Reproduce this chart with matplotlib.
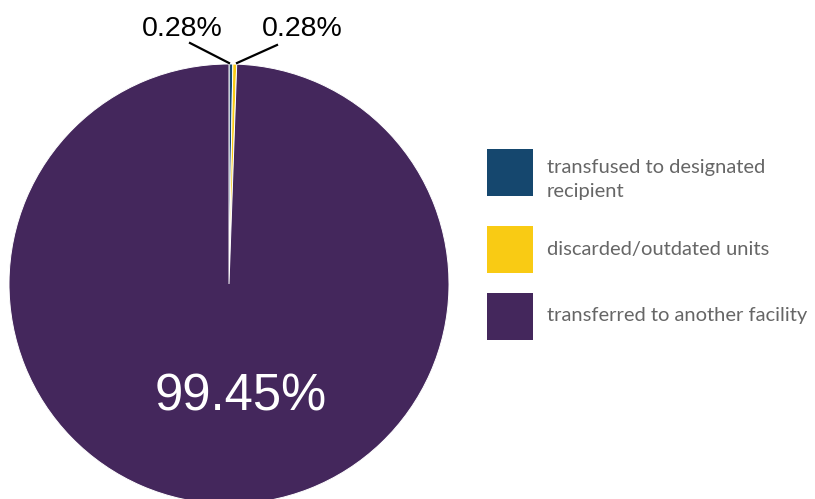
import matplotlib.pyplot as plt
from matplotlib.patches import Rectangle

categories = ['transfused to designated\nrecipient', 'discarded/outdated units',
              'transferred to another facility']
values = [0.28, 0.28, 99.45]
labels = ['0.28%', '0.28%', '99.45%']
colors = ['#15476E', '#F9CB14', '#44275C']

W, H = 815, 499
fig = plt.figure(figsize=(W / 100, H / 100), dpi=100)

# pie axes: centre (229, 284) px, radius 220 px
cx, cy, r = 229, 284, 220
ax = fig.add_axes([(cx - r) / W, (H - cy - r) / H, 2 * r / W, 2 * r / H])
wedges, _ = ax.pie(values, colors=colors, startangle=90, counterclock=False,
                   wedgeprops=dict(edgecolor='white', linewidth=0.7))
ax.set_xlim(-1, 1)
ax.set_ylim(-1, 1)
ax.set_aspect('equal')
ax.axis('off')

def px(x, y):
    return ((x - cx) / r, (cy - y) / r)

font = 'Liberation Sans'
# small slice labels with leader lines
ax.text(*px(182, 29), labels[0], ha='center', va='center', fontsize=20.5, family=font)
ax.text(*px(302, 29), labels[1], ha='center', va='center', fontsize=20.5, family=font)
for (x0, y0), (x1, y1) in [((190, 43), (229, 63)), ((277, 45), (237, 63))]:
    p0, p1 = px(x0, y0), px(x1, y1)
    ax.plot([p0[0], p1[0]], [p0[1], p1[1]], color='black', lw=1.6, clip_on=False)
ax.text(*px(241, 397), labels[2], ha='center', va='center', fontsize=36.5,
        family=font, color='white')

# legend
sq_top = [149, 226, 293]
text_y = [180, 249, 316]
for cat, col, top, ty in zip(categories, colors, sq_top, text_y):
    fig.patches.append(Rectangle((487 / W, (H - top - 47) / H), 46 / W, 47 / H,
                                 facecolor=col, transform=fig.transFigure, figure=fig))
    fig.text(547 / W, (H - ty) / H, cat, ha='left', va='center', fontsize=14.5,
             family='Lato', color='#666666', linespacing=1.5)

fig.savefig('out.png', dpi=100)
